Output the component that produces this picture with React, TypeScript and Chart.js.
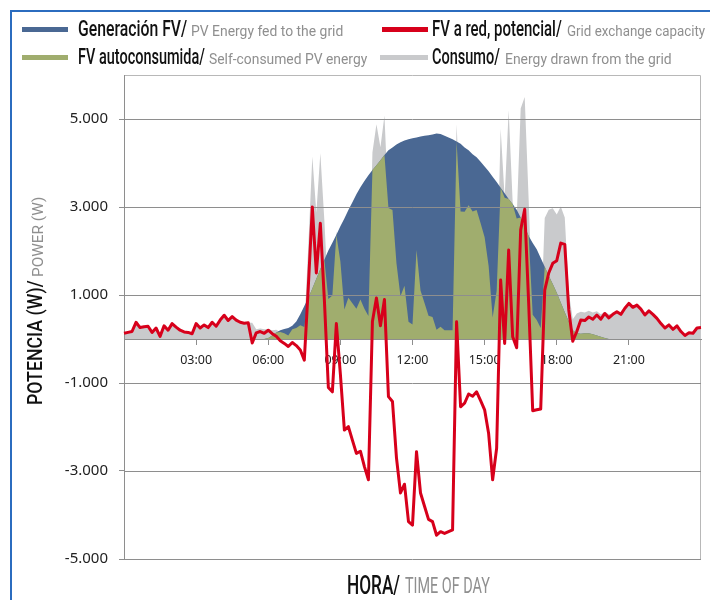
import React, { useEffect, useLayoutEffect, useRef } from "react";
import { Chart, registerables } from "chart.js";

Chart.register(...registerables);

// ---------- data ----------
const STEP_MINUTES = 10;
const TIMES: string[] = [];
for (let m = 0; m <= 24 * 60; m += STEP_MINUTES) {
  TIMES.push(
    `${String(Math.floor(m / 60)).padStart(2, "0")}:${String(m % 60).padStart(2, "0")}`
  );
}
const X_TICK_LABELS = ["03:00", "06:00", "09:00", "12:00", "15:00", "18:00", "21:00"];
const Y_TICKS = [-5000, -3000, -1000, 1000, 3000, 5000];
const Y_TICK_LABELS = ["-5.000", "-3.000", "-1.000", "1.000", "3.000", "5.000"];
const Y_MIN = -5000;
const Y_MAX = 6000;

// Generación FV (W)
const GENERACION = [
  0, 0, 0, 0, 0, 0, 0, 0, 0, 0,
  0, 0, 0, 0, 0, 0, 0, 0, 0, 0,
  0, 0, 0, 0, 0, 0, 0, 0, 0, 0,
  0, 0, 0, 0, 0, 0, 20, 80, 150, 200,
  230, 250, 300, 400, 560, 750, 930, 1150, 1370, 1590,
  1800, 2010, 2190, 2370, 2560, 2740, 2930, 3110, 3290, 3450,
  3590, 3720, 3840, 3950, 4060, 4180, 4290, 4350, 4420, 4470,
  4510, 4540, 4560, 4580, 4600, 4620, 4630, 4650, 4670, 4660,
  4620, 4580, 4540, 4490, 4440, 4350, 4290, 4200, 4130, 4030,
  3920, 3810, 3690, 3570, 3440, 3310, 3180, 3060, 2940, 2760,
  2550, 2340, 2180, 2040, 1840, 1640, 1440, 1250, 1050, 830,
  610, 400, 200, 130, 120, 130, 130, 110, 80, 50,
  25, 0, 0, 0, 0, 0, 0, 0, 0, 0,
  0, 0, 0, 0, 0, 0, 0, 0, 0, 0,
  0, 0, 0, 0, 0,
];

// FV autoconsumida (W)
const AUTOCONSUMO = [
  0, 0, 0, 0, 0, 0, 0, 0, 0, 0,
  0, 0, 0, 0, 0, 0, 0, 0, 0, 0,
  0, 0, 0, 0, 0, 0, 0, 0, 0, 0,
  0, 0, 0, 0, 0, 0, 20, 80, 150, 160,
  130, 80, 220, 250, 310, 270, 930, 1150, 1370, 1590,
  1800, 910, 990, 2370, 1760, 670, 940, 810, 690, 900,
  690, 520, 3840, 3950, 4060, 4180, 2980, 2930, 1720, 970,
  1210, 390, 330, 2020, 1100, 820, 530, 500, 210, 280,
  200, 200, 200, 4490, 2900, 2890, 3040, 2900, 2930, 2630,
  2310, 1660, 490, 1090, 3440, 3210, 3180, 3060, 2740, 2760,
  2550, 2340, 550, 430, 250, 1640, 1440, 1250, 1050, 830,
  610, 400, 200, 130, 120, 130, 130, 110, 80, 50,
  25, 0, 0, 0, 0, 0, 0, 0, 0, 0,
  0, 0, 0, 0, 0, 0, 0, 0, 0, 0,
  0, 0, 0, 0, 0,
];

// Consumo (W)
const CONSUMO = [
  130, 150, 170, 380, 260, 280, 290, 150, 250, 60,
  300, 200, 350, 270, 200, 160, 150, 120, 350, 250,
  320, 260, 380, 290, 430, 540, 420, 510, 430, 380,
  360, 370, 370, 220, 240, 220, 220, 200, 210, 160,
  130, 80, 220, 250, 310, 270, 2120, 4150, 2870, 4220,
  2700, 910, 990, 2450, 1760, 670, 940, 810, 690, 900,
  690, 520, 4240, 4880, 4360, 5080, 2980, 2930, 1720, 970,
  1210, 390, 330, 2020, 1100, 820, 530, 500, 210, 280,
  200, 200, 200, 4880, 2900, 2890, 3040, 2900, 2930, 2630,
  2310, 1660, 490, 1090, 4780, 3210, 5200, 3110, 2740, 5240,
  5500, 3140, 550, 430, 250, 2750, 2940, 2970, 2830, 3010,
  2760, 1060, 450, 580, 620, 600, 640, 600, 630, 560,
  620, 560, 580, 630, 570, 700, 810, 720, 770, 680,
  545, 640, 560, 470, 350, 250, 320, 220, 300, 170,
  80, 140, 130, 250, 260,
];

// FV a red, potencial (W)
const RED = [
  130, 150, 170, 380, 260, 280, 290, 150, 250, 60,
  300, 200, 350, 270, 200, 160, 150, 120, 350, 250,
  320, 260, 380, 290, 430, 540, 420, 510, 430, 380,
  360, 370, -90, 140, 170, 130, 200, 120, 60, -40,
  -100, -170, -80, -150, -250, -480, 1190, 3000, 1500, 2630,
  900, -1100, -1200, 350, -800, -2070, -1990, -2300, -2600, -2550,
  -2900, -3200, 400, 930, 300, 900, -1310, -1420, -2700, -3500,
  -3300, -4150, -4230, -2560, -3500, -3800, -4100, -4150, -4460, -4380,
  -4420, -4380, -4340, 390, -1540, -1460, -1250, -1300, -1200, -1400,
  -1610, -2150, -3200, -2480, 1340, -100, 2020, 50, -200, 2480,
  2950, 800, -1630, -1610, -1590, 1110, 1500, 1720, 1780, 2180,
  2150, 660, -50, 170, 430, 420, 500, 450, 545, 450,
  580, 480, 560, 620, 560, 700, 810, 720, 770, 680,
  545, 640, 560, 470, 350, 250, 320, 220, 300, 170,
  80, 140, 130, 250, 260,
];

// ---------- styles ----------
const C_BLUE = "#4A6893";
const C_GREEN = "#A0AD6E";
const C_GREY = "#C9CACC";
const C_RED = "#D7001B";
const C_GRID = "#8E8E8E";
const C_LABEL_GREY = "#8F8F8F";
const TITLE_FONT = "Roboto, 'Noto Sans', sans-serif";
const TICK_FONT = "'Noto Sans', 'Open Sans', sans-serif";

type FitProps = {
  x: number;
  baseline: number;
  width: number;
  size: number;
  color: string;
  weight?: number;
  text: string;
};

function FitText({ x, baseline, width, size, color, weight = 400, text }: FitProps) {
  const ref = useRef<HTMLSpanElement>(null);
  useLayoutEffect(() => {
    const el = ref.current;
    if (!el) return;
    const fit = () => {
      el.style.transform = "none";
      const w = el.offsetWidth;
      if (w > 0) el.style.transform = `scaleX(${width / w})`;
    };
    fit();
    const fonts = (document as any).fonts;
    if (fonts && fonts.ready) fonts.ready.then(fit);
  }, [width, text, size]);
  return (
    <span
      ref={ref}
      style={{
        position: "absolute",
        left: x,
        top: baseline - 0.842 * size,
        fontSize: size,
        lineHeight: 1,
        fontFamily: TITLE_FONT,
        fontWeight: weight,
        color,
        whiteSpace: "nowrap",
        transformOrigin: "0 0",
        display: "inline-block",
      }}
    >
      {text}
    </span>
  );
}

function Swatch({ x, y, w, color }: { x: number; y: number; w: number; color: string }) {
  return (
    <div style={{ position: "absolute", left: x, top: y, width: w, height: 5, background: color }} />
  );
}

export default function App() {
  const canvasRef = useRef<HTMLCanvasElement>(null);

  useEffect(() => {
    const canvas = canvasRef.current;
    if (!canvas) return;

    const gridPlugin = {
      id: "gridOverAreas",
      beforeDatasetsDraw(chart: any) {
        const { ctx, chartArea: a } = chart;
        ctx.save();
        ctx.strokeStyle = "#B8B8B8";
        ctx.lineWidth = 1;
        ctx.beginPath();
        ctx.moveTo(a.left, a.top + 0.5);
        ctx.lineTo(a.right - 0.5, a.top + 0.5);
        ctx.lineTo(a.right - 0.5, a.bottom);
        ctx.stroke();
        ctx.restore();
      },
      afterDatasetDraw(chart: any, args: any) {
        if (args.index !== 1) return;
        const { ctx, chartArea: a, scales } = chart;
        const ys = scales.y;
        ctx.save();
        ctx.strokeStyle = C_GRID;
        ctx.lineWidth = 1;
        ctx.beginPath();
        [...Y_TICKS, 0].forEach((v) => {
          const py = Math.round(ys.getPixelForValue(v)) + 0.5;
          ctx.moveTo(a.left, py);
          ctx.lineTo(a.right, py);
        });
        ctx.moveTo(a.left + 0.5, a.top);
        ctx.lineTo(a.left + 0.5, a.bottom);
        ctx.stroke();
        ctx.restore();
      },
    };

    const chart = new Chart(canvas, {
      type: "line",
      data: {
        labels: TIMES,
        datasets: [
          {
            label: "FV a red, potencial",
            data: RED,
            borderColor: C_RED,
            borderWidth: 3,
            borderJoinStyle: "round",
            fill: false,
            pointRadius: 0,
            tension: 0,
            order: 0,
          },
          {
            label: "FV autoconsumida",
            data: AUTOCONSUMO,
            backgroundColor: C_GREEN,
            borderColor: "rgba(0,0,0,0)",
            borderWidth: 0,
            fill: "origin",
            pointRadius: 0,
            tension: 0,
            order: 1,
          },
          {
            label: "Generación FV",
            data: GENERACION,
            backgroundColor: C_BLUE,
            borderColor: "rgba(0,0,0,0)",
            borderWidth: 0,
            fill: "origin",
            pointRadius: 0,
            tension: 0,
            order: 2,
          },
          {
            label: "Consumo",
            data: CONSUMO,
            backgroundColor: C_GREY,
            borderColor: "rgba(0,0,0,0)",
            borderWidth: 0,
            fill: "origin",
            pointRadius: 0,
            tension: 0,
            order: 3,
          },
        ],
      },
      options: {
        animation: false,
        responsive: false,
        maintainAspectRatio: false,
        layout: { padding: { top: 75, right: 5, bottom: 41, left: 0 } },
        plugins: {
          legend: { display: false },
          tooltip: { enabled: false },
        },
        scales: {
          x: {
            type: "category",
            position: { y: 0 } as any,
            offset: false,
            grid: {
              display: true,
              drawOnChartArea: false,
              drawTicks: true,
              tickLength: 5,
              tickWidth: 1,
              tickColor: (ctx: any) =>
                X_TICK_LABELS.includes(TIMES[ctx.index]) ? C_GRID : "rgba(0,0,0,0)",
            },
            border: { display: true, color: C_GRID, width: 1 },
            ticks: {
              autoSkip: false,
              maxRotation: 0,
              minRotation: 0,
              padding: 9,
              color: "#222",
              font: { family: TICK_FONT, size: 12.5 },
              callback: (_v: any, i: number) =>
                X_TICK_LABELS.includes(TIMES[i]) ? TIMES[i] : "",
            },
          },
          y: {
            min: Y_MIN,
            max: Y_MAX,
            afterBuildTicks: (s: any) => {
              s.ticks = Y_TICKS.map((v) => ({ value: v }));
            },
            afterFit: (s: any) => {
              s.width = 124;
            },
            grid: {
              drawOnChartArea: false,
              drawTicks: true,
              tickLength: 5,
              tickColor: C_GRID,
            },
            border: { display: true, color: C_GRID, width: 1 },
            ticks: {
              padding: 11,
              color: "#222",
              font: { family: TICK_FONT, size: 15 },
              callback: (v: any) => {
                const k = Y_TICKS.indexOf(Number(v));
                return k >= 0 ? Y_TICK_LABELS[k] : "";
              },
            },
          },
        },
      },
      plugins: [gridPlugin],
    });

    return () => chart.destroy();
  }, []);

  return (
    <div
      style={{
        position: "absolute",
        left: 0,
        top: 0,
        width: 710,
        height: 600,
        background: "#fff",
        overflow: "hidden",
      }}
    >
      <div style={{ position: "absolute", left: 10, top: 10, width: 700, height: 2, background: "#2B6CBF" }} />
      <div style={{ position: "absolute", left: 10, top: 10, width: 2, height: 590, background: "#2B6CBF" }} />

      <canvas
        ref={canvasRef}
        width={710}
        height={600}
        style={{ position: "absolute", left: 0, top: 0, width: 710, height: 600 }}
      />

      {/* legend */}
      <Swatch x={22} y={26.5} w={46} color={C_BLUE} />
      <FitText x={78} baseline={37} width={109} size={22} weight={500} color="#111" text="Generación FV/" />
      <FitText x={191} baseline={37} width={152} size={15} color={C_LABEL_GREY} text="PV Energy fed to the grid" />
      <Swatch x={382} y={26.5} w={46} color={C_RED} />
      <FitText x={432} baseline={37} width={130} size={22} weight={500} color="#111" text="FV a red, potencial/" />
      <FitText x={567} baseline={37} width={138} size={15} color={C_LABEL_GREY} text="Grid exchange capacity" />

      <Swatch x={22} y={55} w={46} color={C_GREEN} />
      <FitText x={78} baseline={64.5} width={127} size={22} weight={500} color="#111" text="FV autoconsumida/" />
      <FitText x={209} baseline={64.5} width={158} size={15} color={C_LABEL_GREY} text="Self-consumed PV energy" />
      <Swatch x={380} y={55} w={48} color={C_GREY} />
      <FitText x={432} baseline={64.5} width={68} size={22} weight={500} color="#111" text="Consumo/" />
      <FitText x={505} baseline={64.5} width={167} size={15} color={C_LABEL_GREY} text="Energy drawn from the grid" />

      {/* y axis title */}
      <div
        style={{
          position: "absolute",
          left: 43,
          top: 405,
          width: 0,
          height: 0,
          transform: "rotate(-90deg)",
          transformOrigin: "0 0",
        }}
      >
        <FitText x={0} baseline={0} width={125} size={21} weight={500} color="#111" text="POTENCIA (W)/" />
        <FitText x={128} baseline={0} width={80} size={14} color={C_LABEL_GREY} text="POWER (W)" />
      </div>

      {/* x axis title */}
      <FitText x={347} baseline={594} width={53} size={25} weight={500} color="#111" text="HORA/" />
      <FitText x={405} baseline={594} width={85} size={22} color={C_LABEL_GREY} text="TIME OF DAY" />
    </div>
  );
}
